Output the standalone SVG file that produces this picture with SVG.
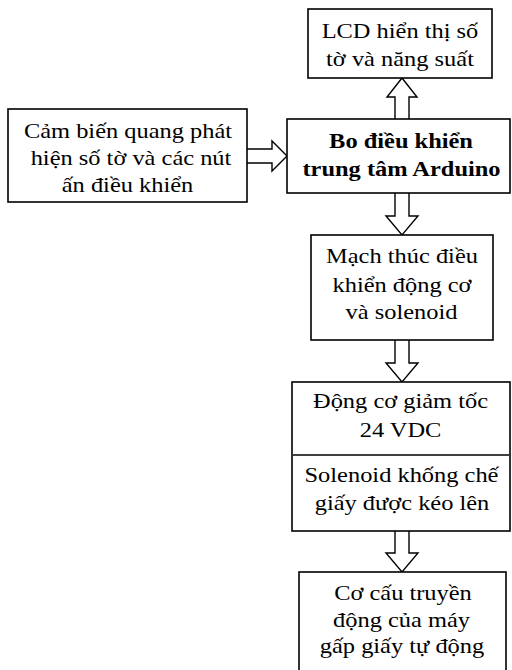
<svg xmlns="http://www.w3.org/2000/svg" width="512" height="670" viewBox="0 0 512 670">
<style>
.box{fill:#fff;stroke:#000;stroke-width:1.6}
.arr{fill:#fff;stroke:#000;stroke-width:1.4;stroke-linejoin:miter}
</style>
<rect width="512" height="670" fill="#fff"/>
<g id="connectors">
<path class="arr" d="M395,119 L395,97 L387,97 L402,78 L417,97 L409,97 L409,119"/>
<path class="arr" d="M247,149 L272,149 L272,141 L287,156 L272,171 L272,163 L247,163"/>
<path class="arr" d="M395,193 L395,216 L386,216 L402,235 L418,216 L409,216 L409,193"/>
<path class="arr" d="M395,340 L395,363 L386,363 L402,382 L418,363 L409,363 L409,340"/>
<path class="arr" d="M395,531 L395,553 L386,553 L402,572 L418,553 L409,553 L409,531"/>
</g>
<g id="lcd">
<rect class="box" x="308" y="9" width="184" height="69"/>
<text font-family="Liberation Serif" font-size="22" text-anchor="middle" transform="translate(400 37.5) scale(1.11 1)">LCD hiển thị số</text>
<text font-family="Liberation Serif" font-size="22" text-anchor="middle" transform="translate(400 66) scale(1.11 1)">tờ và năng suất</text>
</g>
<g id="sensor">
<rect class="box" x="8" y="109" width="239" height="93"/>
<text font-family="Liberation Serif" font-size="22" text-anchor="middle" transform="translate(128 137.5) scale(1.11 1)">Cảm biến quang phát</text>
<text font-family="Liberation Serif" font-size="22" text-anchor="middle" transform="translate(131 165) scale(1.11 1)">hiện số tờ và các nút</text>
<text font-family="Liberation Serif" font-size="22" text-anchor="middle" transform="translate(127.5 191.5) scale(1.11 1)">ấn điều khiển</text>
</g>
<g id="arduino">
<rect class="box" x="287" y="119" width="223" height="74"/>
<text font-family="Liberation Serif" font-size="22" font-weight="bold" text-anchor="middle" transform="translate(401 148) scale(1.11 1)">Bo điều khiển</text>
<text font-family="Liberation Serif" font-size="22" font-weight="bold" text-anchor="middle" transform="translate(401.5 176) scale(1.11 1)">trung tâm Arduino</text>
</g>
<g id="driver">
<rect class="box" x="311" y="235" width="182" height="105"/>
<text font-family="Liberation Serif" font-size="22" text-anchor="middle" transform="translate(402 263) scale(1.11 1)">Mạch thúc điều</text>
<text font-family="Liberation Serif" font-size="22" text-anchor="middle" transform="translate(402 292) scale(1.11 1)">khiển động cơ</text>
<text font-family="Liberation Serif" font-size="22" text-anchor="middle" transform="translate(401.5 319) scale(1.11 1)">và solenoid</text>
</g>
<g id="actuators">
<rect class="box" x="292" y="382" width="218" height="149"/>
<line x1="293" y1="455" x2="509" y2="455" stroke="#000" stroke-width="1.6"/>
<text font-family="Liberation Serif" font-size="22" text-anchor="middle" transform="translate(400.5 408) scale(1.11 1)">Động cơ giảm tốc</text>
<text font-family="Liberation Serif" font-size="22" text-anchor="middle" transform="translate(400.5 437) scale(1.11 1)">24 VDC</text>
<text font-family="Liberation Serif" font-size="22" text-anchor="middle" transform="translate(401.5 482) scale(1.11 1)">Solenoid khống chế</text>
<text font-family="Liberation Serif" font-size="22" text-anchor="middle" transform="translate(402 510) scale(1.11 1)">giấy được kéo lên</text>
</g>
<g id="mechanism">
<rect class="box" x="299" y="572" width="207" height="110"/>
<text font-family="Liberation Serif" font-size="22" text-anchor="middle" transform="translate(403 600) scale(1.11 1)">Cơ cấu truyền</text>
<text font-family="Liberation Serif" font-size="22" text-anchor="middle" transform="translate(401.5 627) scale(1.11 1)">động của máy</text>
<text font-family="Liberation Serif" font-size="22" text-anchor="middle" transform="translate(402 653) scale(1.11 1)">gấp giấy tự động</text>
</g>
</svg>
